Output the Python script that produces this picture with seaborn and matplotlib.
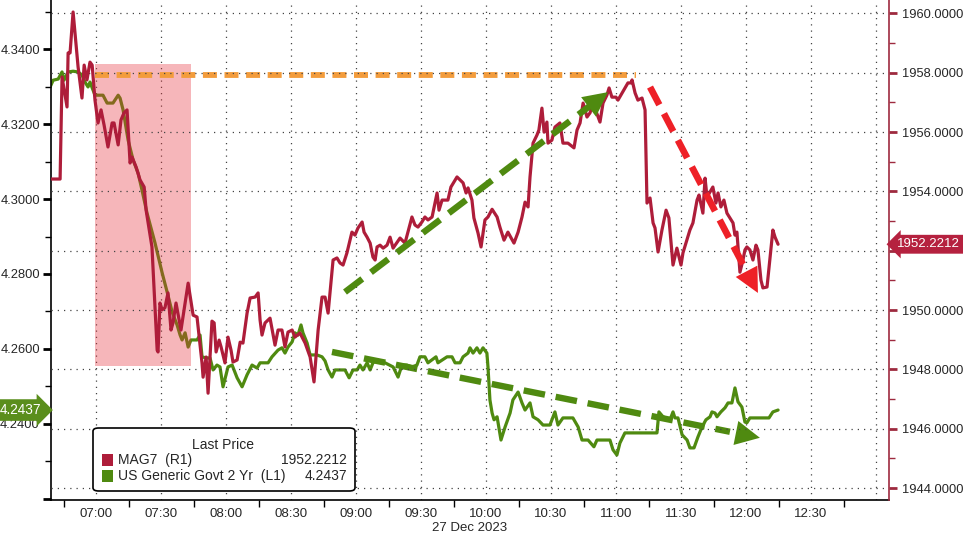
import pandas as pd
import numpy as np
import matplotlib
matplotlib.use('Agg')
from matplotlib import pyplot as plt
import matplotlib.dates as mdates
from matplotlib.patches import FancyBboxPatch, Rectangle
import seaborn as sns

sns.set_style('white')
plt.rcParams['font.family'] = ['Liberation Sans', 'DejaVu Sans']

day = pd.Timestamp('2023-12-27 07:00')

# MAG7 basket (right axis), minutes after 07:00
mag7_min = [-20.8, -16.6, -15.7, -13.4, -12.9, -12.0, -10.6, -8.3, -6.5, -5.5,
            -4.2, -2.8, -1.8, -0.5, 0.9, 2.3, 3.7, 5.5, 7.4, 8.3,
            10.2, 11.5, 12.9, 14.3, 15.7, 16.6, 18.5, 20.3, 22.2, 23.1,
            25.8, 28.2, 28.6, 29.5, 30.5, 31.8, 33.2, 34.6, 35.5, 36.9,
            39.2, 42.5, 44.8, 46.6, 48.9, 49.4, 50.8, 51.7, 53.5, 54.5,
            55.4, 56.8, 57.7, 59.5, 60.9, 62.3, 63.2, 65.1, 66.5, 67.8,
            69.7, 71.1, 73.4, 74.8, 75.7, 76.6, 78.0, 80.3, 82.6, 84.0,
            85.8, 87.2, 88.6, 90.5, 91.8, 94.1, 96.5, 98.8, 100.6, 102.5,
            104.3, 105.7, 107.1, 109.4, 111.2, 112.6, 114.0, 115.8, 117.2, 118.1,
            119.5, 120.9, 122.8, 123.7, 125.1, 126.5, 127.8, 128.8, 129.7, 131.1,
            132.5, 134.3, 135.7, 137.1, 140.3, 142.6, 145.8, 147.2, 148.6, 150.4,
            151.8, 153.2, 155.1, 157.4, 158.3, 159.7, 162.4, 163.8, 166.6, 168.0,
            169.4, 170.8, 171.7, 173.5, 174.4, 176.3, 177.7, 179.5, 180.9, 182.8,
            185.1, 186.4, 188.3, 190.1, 192.9, 194.8, 196.6, 198.0, 199.4, 200.3,
            201.7, 203.5, 204.4, 205.8, 206.8, 208.1, 208.6, 210.4, 211.8, 214.1,
            215.5, 217.8, 220.6, 222.0, 223.4, 224.8, 226.6, 228.0, 229.4, 232.6,
            234.0, 235.8, 236.8, 238.1, 240.0, 240.9, 242.8, 245.5, 246.9, 247.4,
            248.8, 250.1, 252.0, 253.4, 254.3, 255.7, 257.1, 258.0, 259.4, 261.2,
            263.1, 264.4, 266.3, 268.1, 270.0, 270.9, 274.1, 275.5, 277.4, 278.3,
            280.1, 281.1, 282.0, 284.7, 286.1, 287.1, 288.4, 289.8, 291.2, 294.0,
            294.9, 295.8, 297.2, 298.6, 299.5, 300.4, 301.8, 303.2, 304.6, 305.5,
            306.9, 307.8, 309.7, 312.4, 313.4, 314.8]
mag7_val = [1954.42, 1954.42, 1957.86, 1956.85, 1958.67, 1958.67, 1960.05, 1958.20, 1957.15, 1958.26,
            1957.76, 1958.36, 1958.26, 1957.08, 1956.31, 1956.75, 1956.24, 1955.50, 1956.31, 1956.31,
            1955.57, 1956.41, 1956.65, 1956.75, 1954.96, 1955.16, 1954.82, 1954.39, 1954.15, 1953.37,
            1952.13, 1948.65, 1948.59, 1950.24, 1950.01, 1950.08, 1950.58, 1949.33, 1949.57, 1950.24,
            1949.33, 1950.91, 1949.83, 1949.77, 1948.22, 1947.74, 1948.42, 1947.20, 1949.63, 1949.57,
            1948.59, 1948.99, 1948.76, 1948.22, 1949.09, 1948.65, 1948.25, 1948.32, 1948.92, 1948.89,
            1949.90, 1950.41, 1950.44, 1950.58, 1949.67, 1949.16, 1949.57, 1949.73, 1948.82, 1949.33,
            1949.33, 1948.76, 1949.26, 1949.33, 1949.09, 1949.23, 1948.89, 1948.42, 1947.58, 1949.33,
            1950.44, 1950.44, 1949.90, 1951.69, 1951.76, 1951.59, 1951.52, 1951.93, 1952.36, 1952.63,
            1952.53, 1952.77, 1952.97, 1952.63, 1952.46, 1952.26, 1951.79, 1951.69, 1952.13, 1952.19,
            1952.09, 1952.19, 1952.46, 1952.09, 1952.43, 1952.26, 1953.14, 1952.87, 1952.80, 1952.97,
            1953.14, 1953.04, 1953.14, 1953.95, 1953.37, 1953.71, 1953.71, 1954.15, 1954.49, 1954.39,
            1954.29, 1953.95, 1954.12, 1953.71, 1953.11, 1952.60, 1952.13, 1953.04, 1953.14, 1953.40,
            1953.14, 1952.80, 1952.36, 1952.63, 1952.26, 1952.63, 1953.14, 1953.64, 1953.48, 1954.49,
            1955.63, 1955.90, 1956.07, 1956.81, 1956.00, 1956.34, 1955.63, 1955.73, 1956.17, 1956.31,
            1955.63, 1955.63, 1955.47, 1956.07, 1956.31, 1956.98, 1956.51, 1956.65, 1956.98, 1956.34,
            1956.98, 1957.25, 1957.49, 1957.18, 1957.18, 1957.08, 1957.32, 1957.66, 1957.66, 1957.76,
            1957.32, 1957.08, 1957.15, 1956.75, 1953.61, 1953.78, 1952.94, 1952.77, 1951.96, 1952.70,
            1953.37, 1953.11, 1951.52, 1952.09, 1951.52, 1951.93, 1952.70, 1952.94, 1953.71, 1953.88,
            1953.27, 1954.45, 1953.81, 1954.15, 1953.61, 1953.95, 1953.48, 1953.71, 1953.27, 1952.94,
            1952.53, 1952.63, 1951.28, 1951.69, 1952.03, 1952.13, 1952.03, 1951.69, 1952.19, 1952.03,
            1951.01, 1950.75, 1950.78, 1952.70, 1952.46, 1952.2212]

# US generic govt 2y yield (left axis), minutes after 07:00
yld_min = [-21.2, -19.8, -17.5, -15.7, -14.8, -12.9, -10.6, -8.3, -6.5, -5.1,
           -3.7, -2.8, -0.5, 0.9, 3.2, 5.1, 7.8, 10.2, 11.1, 12.5,
           14.8, 17.1, 19.4, 21.2, 23.5, 27.2, 30.5, 32.8, 35.1, 37.4,
           38.8, 39.7, 41.1, 42.5, 43.8, 46.6, 48.0, 48.9, 50.8, 52.6,
           54.0, 55.8, 57.2, 58.6, 60.9, 62.8, 65.1, 67.4, 69.7, 72.0,
           74.3, 75.7, 79.4, 81.2, 84.0, 85.8, 87.2, 88.6, 90.5, 91.8,
           93.2, 94.6, 95.5, 97.4, 98.8, 102.0, 104.3, 105.7, 107.1, 108.9,
           110.3, 114.9, 116.8, 118.6, 120.5, 121.8, 123.2, 125.1, 126.5, 127.8,
           129.7, 133.4, 137.1, 139.4, 141.2, 143.5, 145.8, 148.1, 149.5, 151.8,
           153.2, 156.9, 157.8, 162.0, 164.3, 165.7, 168.0, 169.4, 171.7, 172.6,
           174.0, 175.8, 177.2, 178.6, 180.4, 180.9, 181.8, 182.8, 183.7, 185.1,
           186.9, 188.8, 191.1, 192.4, 194.8, 196.6, 198.0, 200.3, 201.7, 204.0,
           206.3, 209.5, 211.8, 213.2, 215.5, 220.1, 222.5, 224.3, 227.1, 229.8,
           231.2, 237.2, 238.6, 240.4, 241.8, 244.1, 258.9, 259.8, 261.7, 264.9,
           266.3, 267.2, 268.6, 270.5, 272.8, 274.1, 276.0, 277.8, 279.7, 281.5,
           283.4, 284.3, 285.7, 286.6, 288.4, 290.3, 291.7, 293.5, 294.9, 296.3,
           298.1, 299.5, 300.4, 301.8, 310.6, 312.4, 314.8]
yld_val = [4.3299, 4.3317, 4.3320, 4.3339, 4.3317, 4.3339, 4.3341, 4.3339, 4.3331, 4.3312,
           4.3299, 4.3312, 4.3277, 4.3277, 4.3277, 4.3256, 4.3256, 4.3277, 4.3269, 4.3237,
           4.3157, 4.3104, 4.3069, 4.3024, 4.2963, 4.2883, 4.2803, 4.2752, 4.2699, 4.2664,
           4.2637, 4.2624, 4.2643, 4.2605, 4.2624, 4.2624, 4.2637, 4.2579, 4.2576, 4.2576,
           4.2544, 4.2557, 4.2552, 4.2499, 4.2552, 4.2557, 4.2523, 4.2499, 4.2531, 4.2557,
           4.2549, 4.2563, 4.2563, 4.2579, 4.2597, 4.2603, 4.2589, 4.2605, 4.2619, 4.2643,
           4.2637, 4.2664, 4.2643, 4.2616, 4.2584, 4.2584, 4.2579, 4.2568, 4.2544, 4.2525,
           4.2544, 4.2544, 4.2523, 4.2544, 4.2544, 4.2557, 4.2544, 4.2563, 4.2544, 4.2563,
           4.2571, 4.2563, 4.2552, 4.2525, 4.2557, 4.2557, 4.2552, 4.2557, 4.2579, 4.2579,
           4.2563, 4.2579, 4.2563, 4.2579, 4.2579, 4.2563, 4.2563, 4.2579, 4.2589, 4.2603,
           4.2589, 4.2603, 4.2589, 4.2603, 4.2589, 4.2552, 4.2464, 4.2429, 4.2411, 4.2419,
           4.2357, 4.2392, 4.2429, 4.2464, 4.2485, 4.2456, 4.2437, 4.2456, 4.2419, 4.2411,
           4.2397, 4.2397, 4.2432, 4.2397, 4.2416, 4.2416, 4.2392, 4.2357, 4.2357, 4.2339,
           4.2357, 4.2357, 4.2331, 4.2317, 4.2349, 4.2376, 4.2376, 4.2432, 4.2419, 4.2411,
           4.2432, 4.2416, 4.2416, 4.2371, 4.2357, 4.2336, 4.2336, 4.2365, 4.2392, 4.2411,
           4.2419, 4.2432, 4.2429, 4.2419, 4.2432, 4.2443, 4.2456, 4.2456, 4.2496, 4.2459,
           4.2445, 4.2405, 4.2403, 4.2416, 4.2416, 4.2432, 4.2437]

mag7_last = 1952.2212
yld_last = 4.2437

# annotations drawn on the chart
high_min = [-0.5, 249.2]        # orange dashed level (left axis)
high_level = 4.3331
box_min = [-0.5, 43.8]          # shaded selloff window (left axis)
box_lo, box_hi = 4.2555, 4.3360
up_min = [114.9, 236.3]         # green arrow up (right axis)
up_val = [1950.61, 1957.35]
down_min = [108.9, 306.4]       # green arrow down (left axis)
down_val = [4.2592, 4.2363]
red_min = [255.7, 305.5]        # red arrow down (right axis)
red_val = [1957.52, 1950.58]

assert len(mag7_min) == len(mag7_val) and len(yld_min) == len(yld_val)

RED = '#AE1D3A'
GREEN = '#4F8A10'
ORANGE = '#F39C3C'
ARROW_RED = '#EE2027'


def tm(m):
    return day + pd.to_timedelta(np.asarray(m, dtype=float), unit='m')


mag7 = pd.DataFrame({'time': tm(mag7_min), 'val': mag7_val})
yld = pd.DataFrame({'time': tm(yld_min), 'val': yld_val})

fig = plt.figure(figsize=(9.63, 5.36), dpi=100)
ax = fig.add_axes([51 / 963, 36 / 536, 838 / 963, 500 / 536])
ax2 = ax.twinx()

sns.lineplot(data=yld, x='time', y='val', ax=ax, color=GREEN, lw=2.3, zorder=2)
sns.lineplot(data=mag7, x='time', y='val', ax=ax2, color=RED, lw=2.3, zorder=2)

# pink window over the 2y line
ax.fill_between(tm(box_min), box_lo, box_hi, color='#E8303A', alpha=0.35, lw=0, zorder=3)
ax.plot(tm(high_min), [high_level, high_level], color=ORANGE, lw=4.2,
        dashes=(2.4, 1.3), solid_capstyle='butt', zorder=4)


def dashed_arrow(axis, mins, vals, color, lw, dashes, hw):
    x = mdates.date2num(tm(mins))
    xe = x[0] + 0.93 * (x[1] - x[0])
    ye = vals[0] + 0.93 * (vals[1] - vals[0])
    axis.plot([x[0], xe], [vals[0], ye], color=color, lw=lw, dashes=dashes,
              dash_capstyle='butt', zorder=5)
    axis.annotate('', xy=(x[1], vals[1]), xytext=(x[0], vals[0]),
                  arrowprops=dict(arrowstyle='-|>,head_length=0.8,head_width=%s' % hw,
                                  color=color, lw=0, mutation_scale=22,
                                  shrinkA=0, shrinkB=0), zorder=5)


dashed_arrow(ax2, up_min, up_val, GREEN, 4.6, (3.4, 1.7), 0.4)
dashed_arrow(ax, down_min, down_val, GREEN, 4.6, (3.4, 1.7), 0.4)
dashed_arrow(ax2, red_min, red_val, ARROW_RED, 4.8, (3.0, 1.5), 0.4)

# axes limits
ax.set_xlim(tm(-20.8), tm(366.0))
ax.set_ylim(4.2197, 4.3531)
ax2.set_ylim(1943.60, 1960.455)

# x ticks every 30 minutes, minor every quarter
major = tm(np.arange(0, 361, 30))
ax.set_xticks(major)
ax.set_xticklabels([t.strftime('%H:%M') if t.hour < 13 else '' for t in major])
ax.set_xticks(tm(np.arange(-15, 346, 30)), minor=True)
ax.set_xlabel('27 Dec 2023', fontsize=9.5, labelpad=1)
ax.set_ylabel('')
ax2.set_ylabel('')

lticks = np.round(np.arange(4.22, 4.341, 0.02), 2)
ax.set_yticks(lticks)
ax.set_yticklabels(['' if v < 4.23 else '%.4f' % v for v in lticks])
ax.set_yticks(np.arange(4.23, 4.355, 0.02), minor=True)

# the 1952 label sits under the last-price tag, as in the terminal
rticks = np.arange(1944, 1961, 2)
ax2.set_yticks(rticks)
ax2.set_yticklabels(['' if v == 1952 else '%.4f' % v for v in rticks])
ax2.set_yticks(np.arange(1945, 1960, 2), minor=True)

ax.tick_params(axis='x', which='major', length=0, pad=6, labelsize=9.5)
ax.tick_params(axis='x', which='minor', length=5, width=1, color='black', bottom=True)
ax.tick_params(axis='y', which='major', length=6, width=2, color='black', pad=2, labelsize=9.3, left=True)
ax.tick_params(axis='y', which='minor', length=4, width=1, color='black', left=True)
ax2.tick_params(axis='y', which='major', length=6, width=2, color='#9E2A3F', pad=3, labelsize=9.3, right=True)
ax2.tick_params(axis='y', which='minor', length=4, width=1, color='#9E2A3F', right=True)

dots = (0, (1, 4))
ax.grid(axis='x', which='major', linestyle=dots, color='#444444', lw=0.9)
ax.grid(axis='y', visible=False)
ax2.grid(axis='y', which='major', linestyle=dots, color='#444444', lw=0.9)
ax.set_axisbelow(True)

for a in (ax, ax2):
    a.spines['top'].set_visible(False)
ax.spines['right'].set_visible(False)
ax2.spines['left'].set_visible(False)
ax2.spines['bottom'].set_visible(False)
ax.spines['left'].set_color('black')
ax.spines['bottom'].set_color('black')
ax.spines['left'].set_linewidth(1.2)
ax.spines['bottom'].set_linewidth(1.2)
ax2.spines['right'].set_color('#9E2A3F')
ax2.spines['right'].set_linewidth(1.2)

# last value tags
ax.text(-0.012, yld_last, '%.4f' % yld_last, transform=ax.get_yaxis_transform(),
        ha='right', va='center', color='white', fontsize=9.8, clip_on=False,
        bbox=dict(boxstyle='rarrow,pad=0.28', fc='#5A8E1C', ec='none'))
ax2.text(1.0095, mag7_last, '%.4f' % mag7_last, transform=ax2.get_yaxis_transform(),
         ha='left', va='center', color='white', fontsize=9.5, clip_on=False,
         bbox=dict(boxstyle='larrow,pad=0.26', fc='#B5213F', ec='none'))

# legend box
W, H = 963.0, 536.0
box = FancyBboxPatch((93 / W, 1 - 491 / H), 262 / W, 63 / H,
                     boxstyle='round,pad=0,rounding_size=0.006',
                     transform=fig.transFigure, fc='white', ec='black', lw=1.2, zorder=10)
fig.add_artist(box)
fig.text(223 / W, 1 - 445 / H, 'Last Price', ha='center', va='center', fontsize=10, zorder=11)
rows = [('MAG7  (R1)', '%.4f' % mag7_last, RED, 460),
        ('US Generic Govt 2 Yr  (L1)', '%.4f' % yld_last, GREEN, 476)]
for label, value, col, ypx in rows:
    fig.add_artist(Rectangle((102 / W, 1 - (ypx + 6) / H), 11 / W, 12 / H,
                             transform=fig.transFigure, fc=col, ec='none', zorder=11))
    fig.text(118 / W, 1 - ypx / H, label, ha='left', va='center', fontsize=10, zorder=11)
    fig.text(347 / W, 1 - ypx / H, value, ha='right', va='center', fontsize=10, zorder=11)

fig.savefig('out.png', dpi=100)
